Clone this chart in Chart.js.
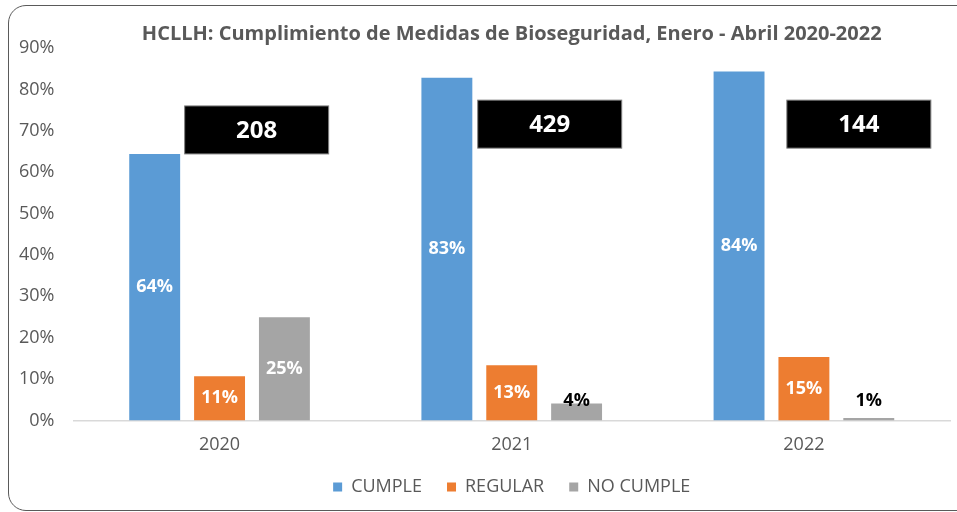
<!DOCTYPE html>
<html>
<head>
<meta charset="utf-8">
<script src="https://cdn.jsdelivr.net/npm/chart.js@4.4.1/dist/chart.umd.min.js"></script>
<style>
  html, body { margin: 0; padding: 0; background: #fff; overflow: hidden; }
  #wrap { position: relative; width: 957px; height: 512px; }
  #marco {
    position: absolute; left: 8px; top: 5px; width: 990px; height: 504px;
    border: 1.5px solid #5a5a5a; border-radius: 18px; pointer-events: none;
  }
</style>
</head>
<body>
<div id="wrap">
  <canvas id="grafico" width="957" height="512"></canvas>
  <div id="marco"></div>
</div>
<script>
// datos
const anios = ['2020', '2021', '2022'];
const cumple = [64.4, 82.8, 84.3];
const regular = [10.7, 13.3, 15.3];
const noCumple = [24.9, 4.1, 0.6];
const totales = [208, 429, 144];
const ticksY = [0, 10, 20, 30, 40, 50, 60, 70, 80, 90];

const gris = '#595959';
const fuente = "'Open Sans', sans-serif";

// etiquetas de valor sobre las barras
const etiquetasPlugin = {
  id: 'etiquetas',
  afterDatasetsDraw(chart) {
    const ctx = chart.ctx;
    const y = chart.scales.y;
    ctx.save();
    ctx.font = 'bold 18px ' + fuente;
    ctx.textAlign = 'center';
    ctx.textBaseline = 'middle';
    chart.data.datasets.forEach((ds, i) => {
      chart.getDatasetMeta(i).data.forEach((bar, j) => {
        const v = ds.data[j];
        const txt = Math.round(v) + '%';
        if (v >= 8) {
          ctx.fillStyle = '#ffffff';
          ctx.fillText(txt, bar.x, (bar.y + bar.base) / 2);
        } else {
          ctx.fillStyle = '#000000';
          ctx.fillText(txt, bar.x, y.getPixelForValue(4.6));
        }
      });
    });
    ctx.restore();
  }
};

// cuadros negros con el total de cada anio
const cuadrosPlugin = {
  id: 'cuadros',
  afterDatasetsDraw(chart, args, opts) {
    const ctx = chart.ctx;
    const x = chart.scales.x;
    const y = chart.scales.y;
    const ancho = x.width / anios.length;
    ctx.save();
    totales.forEach((t, i) => {
      const cx = x.getPixelForValue(i) + opts.desplazamiento[i] * ancho;
      const cy = y.getPixelForValue(opts.altura[i]);
      ctx.fillStyle = '#000';
      ctx.fillRect(cx - 72, cy - 24, 144, 48);
      ctx.strokeStyle = '#7f7f7f';
      ctx.lineWidth = 1;
      ctx.strokeRect(cx - 72, cy - 24, 144, 48);
      ctx.fillStyle = '#fff';
      ctx.font = 'bold 24px ' + fuente;
      ctx.textAlign = 'center';
      ctx.textBaseline = 'middle';
      ctx.fillText(String(t), cx, cy + 1);
    });
    ctx.restore();
  }
};

const datos = {
  labels: anios,
  datasets: [
    { label: 'CUMPLE', data: cumple, backgroundColor: '#5B9BD5' },
    { label: 'REGULAR', data: regular, backgroundColor: '#ED7D31' },
    { label: 'NO CUMPLE', data: noCumple, backgroundColor: '#A5A5A5' }
  ]
};

new Chart(document.getElementById('grafico').getContext('2d'), {
  type: 'bar',
  data: datos,
  options: {
    responsive: false,
    animation: false,
    datasets: {
      bar: { categoryPercentage: 0.666, barPercentage: 0.785 }
    },
    layout: { padding: { left: 0, right: 7, top: 0, bottom: 6 } },
    plugins: {
      title: {
        display: true,
        fullSize: false,
        text: 'HCLLH: Cumplimiento de Medidas de Bioseguridad, Enero - Abril 2020-2022',
        color: gris,
        font: { family: fuente, size: 20, weight: 'bold' },
        padding: { top: 22, bottom: 2 }
      },
      legend: {
        position: 'bottom',
        fullSize: false,
        labels: {
          color: gris,
          font: { family: fuente, size: 18 },
          boxWidth: 9,
          boxHeight: 9,
          padding: 25
        }
      },
      tooltip: { enabled: false },
      cuadros: {
        desplazamiento: [0.127, 0.13, 0.188],
        altura: [70.2, 71.6, 71.6]
      }
    },
    scales: {
      x: {
        grid: { display: false, drawTicks: false },
        border: { color: '#d9d9d9', width: 1.5 },
        ticks: { color: gris, font: { family: fuente, size: 18 }, padding: 14 },
        afterFit: function(scale) {
          scale.height -= 17;
        }
      },
      y: {
        min: 0,
        max: 90,
        afterBuildTicks: function(scale) {
          scale.ticks = ticksY.map(v => ({ value: v }));
        },
        grid: { display: false, drawTicks: false },
        border: { display: false },
        ticks: {
          color: gris,
          font: { family: fuente, size: 18 },
          padding: 19,
          callback: function(value) {
            return value + '%';
          }
        }
      }
    }
  },
  plugins: [etiquetasPlugin, cuadrosPlugin]
});
</script>
</body>
</html>
